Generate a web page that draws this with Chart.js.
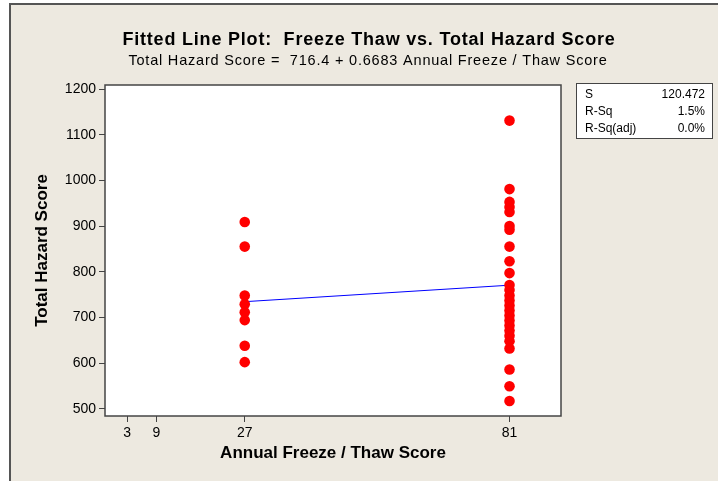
<!DOCTYPE html>
<html>
<head>
<meta charset="utf-8">
<script src="https://cdn.jsdelivr.net/npm/chart.js@4"></script>
<style>
  body { margin: 0; background: #fff; }
  #frame {
    position: absolute; left: 9px; top: 3px; right: 0; bottom: 0;
    background: #EDE9E0;
    border-left: 2px solid #555;
    border-top: 2px solid #555;
  }
  #chart { position: absolute; left: 0; top: 0; }
</style>
</head>
<body>
<div id="frame"></div>
<canvas id="chart" width="718" height="481"></canvas>
<script>
// Annual freeze/thaw score groups and their total hazard scores
const hazardAt27 = [909, 855, 748, 729, 711, 694, 638, 602];
const hazardAt81 = [1131, 981, 953, 942, 931, 900, 892, 855, 823, 797, 771,
  760, 748, 737, 726, 715, 704, 693, 682, 671, 660, 648,
  632, 586, 549, 517];

// fitted line end points (716.4 + 0.6683 x)
const fitX = [27, 81];
const fitY = [734.4, 770.5];

const xTicks = [3, 9, 27, 81];
const yTicks = [500, 600, 700, 800, 900, 1000, 1100, 1200];

const titleText = 'Fitted Line Plot:  Freeze Thaw vs. Total Hazard Score';
const subtitleText = 'Total Hazard Score =  716.4 + 0.6683 Annual Freeze / Thaw Score';
const statsRows = [['S', '120.472'], ['R-Sq', '1.5%'], ['R-Sq(adj)', '0.0%']];

const FONT = '"Liberation Sans", Arial, sans-serif';

const points = [];
hazardAt27.forEach(v => points.push({ x: 27, y: v }));
hazardAt81.forEach(v => points.push({ x: 81, y: v }));

const framePlugin = {
  id: 'framePlugin',
  beforeDatasetsDraw(chart) {
    const { ctx, chartArea: a } = chart;
    ctx.save();
    ctx.fillStyle = '#fff';
    ctx.fillRect(a.left, a.top, a.right - a.left, a.bottom - a.top);
    ctx.restore();
  },
  afterDraw(chart) {
    const { ctx, chartArea: a } = chart;
    ctx.save();
    ctx.strokeStyle = '#444';
    ctx.lineWidth = 1.5;
    ctx.strokeRect(a.left, a.top, a.right - a.left, a.bottom - a.top);

    // titles
    ctx.fillStyle = '#000';
    ctx.textAlign = 'center';
    ctx.textBaseline = 'middle';
    ctx.letterSpacing = '0.8px';
    ctx.font = 'bold 18px ' + FONT;
    ctx.fillText(titleText, 369, 40);
    ctx.font = '14.5px ' + FONT;
    ctx.fillText(subtitleText, 368, 61);
    ctx.letterSpacing = '0px';

    // stats box
    const bx = 576, by = 83, bw = 136, bh = 55;
    ctx.fillStyle = '#fff';
    ctx.fillRect(bx, by, bw, bh);
    ctx.strokeStyle = '#444';
    ctx.lineWidth = 1;
    ctx.strokeRect(bx + 0.5, by + 0.5, bw, bh);
    ctx.fillStyle = '#000';
    ctx.font = '12px ' + FONT;
    statsRows.forEach((r, i) => {
      const y = 95 + i * 16.7;
      ctx.textAlign = 'left';
      ctx.fillText(r[0], 585, y);
      ctx.textAlign = 'right';
      ctx.fillText(r[1], 705, y);
    });
    ctx.restore();
  }
};

new Chart(document.getElementById('chart'), {
  data: {
    datasets: [
      {
        type: 'scatter',
        data: points,
        backgroundColor: '#ff0000',
        borderWidth: 0,
        pointRadius: 5.3,
        pointHoverRadius: 5.3,
        order: 1
      },
      {
        type: 'line',
        data: fitX.map((x, i) => ({ x: x, y: fitY[i] })),
        borderColor: '#0000ff',
        borderWidth: 1,
        pointRadius: 0,
        fill: false,
        order: 2
      }
    ]
  },
  options: {
    responsive: false,
    animation: false,
    layout: { padding: { top: 85, right: 157, left: 0, bottom: 0 } },
    plugins: {
      legend: { display: false },
      tooltip: { enabled: false }
    },
    scales: {
      x: {
        type: 'linear',
        min: -1.5,
        max: 91.5,
        afterBuildTicks: s => { s.ticks = xTicks.map(v => ({ value: v })); },
        afterFit: s => { s.height = 65; },
        border: { display: false },
        grid: { drawOnChartArea: false, drawTicks: true, tickLength: 6, color: '#444' },
        ticks: { color: '#000', padding: 3, font: { family: FONT, size: 14 }, maxRotation: 0,
          callback: v => String(v) },
        title: {
          display: true,
          text: 'Annual Freeze / Thaw Score',
          color: '#000',
          font: { family: FONT, size: 17, weight: 'bold' },
          padding: { top: 0, bottom: 17 }
        }
      },
      y: {
        type: 'linear',
        min: 484,
        max: 1209,
        afterBuildTicks: s => { s.ticks = yTicks.map(v => ({ value: v })); },
        afterFit: s => { s.width = 105; },
        border: { display: false },
        grid: { drawOnChartArea: false, drawTicks: true, tickLength: 6, color: '#444' },
        ticks: { color: '#000', padding: 3, font: { family: FONT, size: 14 },
          callback: v => String(v) },
        title: {
          display: true,
          text: 'Total Hazard Score',
          color: '#000',
          font: { family: FONT, size: 17, weight: 'bold' },
          padding: { top: 32, bottom: 0 }
        }
      }
    }
  },
  plugins: [framePlugin]
});
</script>
</body>
</html>
